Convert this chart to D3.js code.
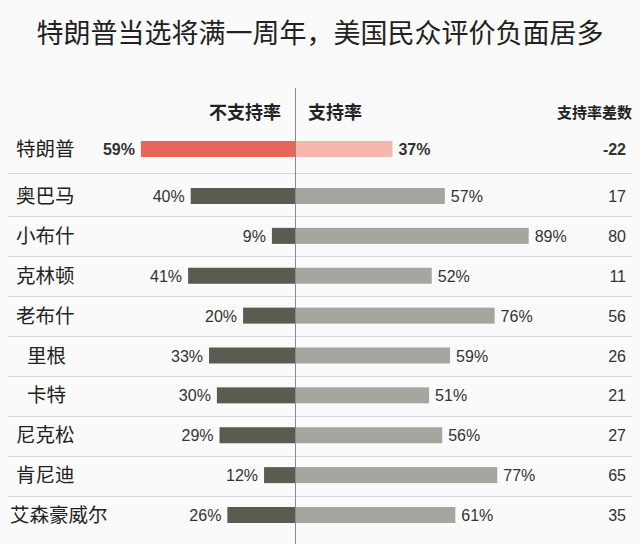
<!DOCTYPE html>
<html><head><meta charset="utf-8">
<script src="https://cdn.jsdelivr.net/npm/d3@7"></script>
<style>
html,body{margin:0;padding:0;background:#fafafa;}
svg{display:block;}
</style></head>
<body>
<svg id="chart" width="640" height="544"></svg>
<script>
const presidents = ["特朗普","奥巴马","小布什","克林顿","老布什","里根","卡特","尼克松","肯尼迪","艾森豪威尔"];
const disapprove = [59,40,9,41,20,33,30,29,12,26];
const approve = [37,57,89,52,76,59,51,56,77,61];
const netDiff = [-22,17,80,11,56,26,21,27,65,35];
const headers = {dis:"不支持率", app:"支持率", diff:"支持率差数"};
const title = "特朗普当选将满一周年，美国民众评价负面居多";

const svg = d3.select("#chart");
const W = 640, H = 544;
svg.append("rect").attr("width",W).attr("height",H).attr("fill","#fafafa");

const cx = 295.5;
const len = d3.scaleLinear().domain([0,100]).range([0,262]);
const y = d3.scaleLinear().domain([0,1,9]).range([149,196,515]);
const barH = 16;
const cjk = "'Noto Sans CJK SC', sans-serif";
const num = "'Liberation Sans', Arial, sans-serif";

svg.append("text").attr("x",320).attr("y",43).attr("text-anchor","middle")
  .attr("font-family",cjk).attr("font-size",27).attr("fill","#222").text(title);

// headers
svg.append("text").attr("x",281).attr("y",119).attr("text-anchor","end")
  .attr("font-family",cjk).attr("font-weight","bold").attr("font-size",18).attr("fill","#222").text(headers.dis);
svg.append("text").attr("x",308).attr("y",119).attr("text-anchor","start")
  .attr("font-family",cjk).attr("font-weight","bold").attr("font-size",18).attr("fill","#222").text(headers.app);
svg.append("text").attr("x",632).attr("y",118).attr("text-anchor","end")
  .attr("font-family",cjk).attr("font-weight","bold").attr("font-size",15).attr("fill","#222").text(headers.diff);

// separators
const seps = d3.range(presidents.length-1).map(i => (y(i)+y(i+1))/2 + 0.5);
svg.selectAll("line.sep").data(seps).join("line").attr("class","sep")
  .attr("x1",8).attr("x2",632).attr("y1",d=>Math.round(d)+0.5).attr("y2",d=>Math.round(d)+0.5)
  .attr("stroke","#d6d6d6").attr("stroke-width",1);

const rows = presidents.map((p,i)=>({p,i,dis:disapprove[i],app:approve[i],diff:netDiff[i]}));
const g = svg.selectAll("g.row").data(rows).join("g").attr("class","row");

g.append("rect").attr("x",d=>cx-len(d.dis)).attr("y",d=>y(d.i)-barH/2)
  .attr("width",d=>len(d.dis)).attr("height",barH)
  .attr("fill",d=>d.i===0?"#e8655b":"#5b5b51");
g.append("rect").attr("x",cx).attr("y",d=>y(d.i)-barH/2)
  .attr("width",d=>len(d.app)).attr("height",barH)
  .attr("fill",d=>d.i===0?"#f5b8ad":"#a6a6a0");

g.append("text").attr("x",d=>{const n=d.p.length;return n===2?27:(n===5?10:16);})
  .attr("y",d=>y(d.i)+7).attr("font-family",cjk).attr("font-size",19.5).attr("fill","#222")
  .text(d=>d.p);

g.append("text").attr("x",d=>cx-len(d.dis)-6).attr("y",d=>y(d.i)+6).attr("text-anchor","end")
  .attr("font-family",num).attr("font-size",16).attr("font-weight",d=>d.i===0?"bold":"normal")
  .attr("fill","#333").text(d=>d.dis+"%");
g.append("text").attr("x",d=>cx+len(d.app)+6).attr("y",d=>y(d.i)+6).attr("text-anchor","start")
  .attr("font-family",num).attr("font-size",16).attr("font-weight",d=>d.i===0?"bold":"normal")
  .attr("fill","#333").text(d=>d.app+"%");
g.append("text").attr("x",626).attr("y",d=>y(d.i)+6).attr("text-anchor","end")
  .attr("font-family",num).attr("font-size",16).attr("font-weight",d=>d.i===0?"bold":"normal")
  .attr("fill","#333").text(d=>d.diff);

// center line
svg.append("line").attr("x1",cx).attr("x2",cx).attr("y1",88).attr("y2",H)
  .attr("stroke","#8a8a8a").attr("stroke-width",1);
</script>
</body></html>
